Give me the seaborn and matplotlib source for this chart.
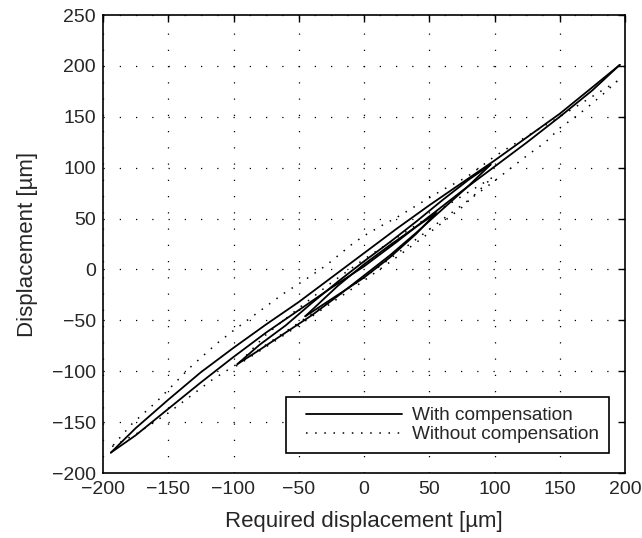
import matplotlib
matplotlib.use("Agg")
import matplotlib.pyplot as plt
from matplotlib.lines import Line2D
from matplotlib.legend_handler import HandlerLine2D
import pandas as pd
import seaborn as sns

# ---------------- data ----------------
# With compensation
comp_major_asc_x = [-194, -175, -150, -125, -100, -75, -50, -25, 0, 25, 50, 75, 100, 125, 150, 175, 196]
comp_major_asc_y = [-180, -163, -137, -111, -86, -62, -40, -18, 3, 27, 52, 77, 101, 125, 150, 176, 201]
comp_major_desc_x = [196, 175, 150, 125, 100, 75, 50, 25, 0, -25, -50, -75, -100, -125, -150, -175, -194]
comp_major_desc_y = [201, 179, 153, 130, 107, 85, 63, 40, 16, -8, -32, -54, -77, -101, -128, -156, -180]
comp_minor_asc_x = [-97, -80, -60, -40, -20, 0, 20, 40, 60, 80, 97]
comp_minor_asc_y = [-93, -79, -62, -45, -26, -6, 14, 36, 59, 82, 103]
comp_minor_desc_x = [97, 80, 60, 40, 20, 0, -20, -40, -60, -80, -97]
comp_minor_desc_y = [103, 88, 68, 47, 27, 8, -12, -33, -55, -74, -93]
comp_small_asc_x = [-45, -20, 0, 20, 40, 55]
comp_small_asc_y = [-46, -25, -8, 12, 35, 55]
comp_small_desc_x = [55, 40, 20, 0, -20, -45]
comp_small_desc_y = [55, 42, 24, 5, -16, -46]

# Without compensation
unc_major_asc_x = [-193, -175, -150, -117, -90, -60, -30, 0, 30, 60, 98, 112, 125, 139, 151, 160, 171, 183, 194]
unc_major_asc_y = [-174, -162, -141, -109, -87, -61, -35, -8, 20, 49, 85, 99, 112, 125, 140, 148, 159, 172, 185]
unc_major_desc_x = [194, 175, 150, 125, 100, 79, 60, 43, 25, 12, 0, -9, -29, -45, -62, -80, -99, -113, -133, -159, -178, -193]
unc_major_desc_y = [185, 170, 150, 131, 111, 91, 78, 65, 51, 42, 33, 25, 4, -10, -24, -41, -59, -73, -96, -130, -152, -174]
unc_minor_asc_x = [-98, -75, -50, -25, 0, 25, 50, 75, 98]
unc_minor_asc_y = [-95, -76, -55, -33, -11, 12, 36, 61, 90]
unc_minor_desc_x = [98, 75, 50, 25, 0, -25, -50, -75, -98]
unc_minor_desc_y = [90, 72, 52, 31, 10, -13, -38, -64, -95]

series_names = ["With compensation", "Without compensation"]
x_ticks = [-200, -150, -100, -50, 0, 50, 100, 150, 200]
y_ticks = [-200, -150, -100, -50, 0, 50, 100, 150, 200, 250]
x_label = "Required displacement [\u00b5m]"
y_label = "Displacement [\u00b5m]"

branches = {
    series_names[0]: [
        (comp_major_asc_x, comp_major_asc_y), (comp_major_desc_x, comp_major_desc_y),
        (comp_minor_asc_x, comp_minor_asc_y), (comp_minor_desc_x, comp_minor_desc_y),
        (comp_small_asc_x, comp_small_asc_y), (comp_small_desc_x, comp_small_desc_y),
    ],
    series_names[1]: [
        (unc_major_asc_x, unc_major_asc_y), (unc_major_desc_x, unc_major_desc_y),
        (unc_minor_asc_x, unc_minor_asc_y), (unc_minor_desc_x, unc_minor_desc_y),
    ],
}

rows = []
for s, blist in branches.items():
    for i, (xs, ys) in enumerate(blist):
        for j, (xv, yv) in enumerate(zip(xs, ys)):
            rows.append({"series": s, "branch": f"{s}-{i}", "x": xv, "y": yv, "order": j})
df = pd.DataFrame(rows)

# ---------------- style ----------------
sns.set_style("white")
plt.rcParams["font.family"] = ["Liberation Sans", "DejaVu Sans"]

fig = plt.figure(figsize=(6.42, 5.38), dpi=100)
ax = fig.add_axes([103 / 642, 1 - 473 / 538, 522 / 642, 458 / 538])

styles = {
    series_names[0]: dict(linestyle="-", linewidth=1.3),
    series_names[1]: dict(linestyle=(0, (1, 5)), linewidth=1.1),
}
handles = []
for s in series_names:
    sub = df[df["series"] == s]
    n_before = len(ax.lines)
    sns.lineplot(data=sub, x="x", y="y", units="branch", estimator=None, sort=False,
                 color="black", ax=ax, legend=False, **styles[s])
    handles.append(ax.lines[n_before])

ax.set_xlim(-200, 200)
ax.set_ylim(-200, 250)
ax.set_xticks(x_ticks)
ax.set_yticks(y_ticks)
ax.set_xlabel(x_label, fontsize=16, labelpad=9)
ax.set_ylabel(y_label, fontsize=16, labelpad=10)
ax.tick_params(axis="both", which="both", direction="in", length=5, width=1.0,
               top=True, right=True, labelsize=14, color="black")
ax.tick_params(axis="y", pad=5)
ax.tick_params(axis="x", pad=6)
ax.grid(True, color="black", linestyle=(0, (1, 12)), linewidth=0.9)
for sp in ax.spines.values():
    sp.set_color("black")
    sp.set_linewidth(1.2)

leg = ax.legend(handles, series_names, loc="lower right", bbox_to_anchor=(0.969, 0.0437),
                borderaxespad=0, fontsize=13.7, frameon=True, fancybox=False,
                framealpha=1, edgecolor="black", handlelength=5.6, handletextpad=0.53,
                borderpad=0.5, labelspacing=0.1,
                handler_map={Line2D: HandlerLine2D(xpad=0.54)})
leg.get_frame().set_linewidth(1.2)

fig.savefig("out.png", dpi=100)
